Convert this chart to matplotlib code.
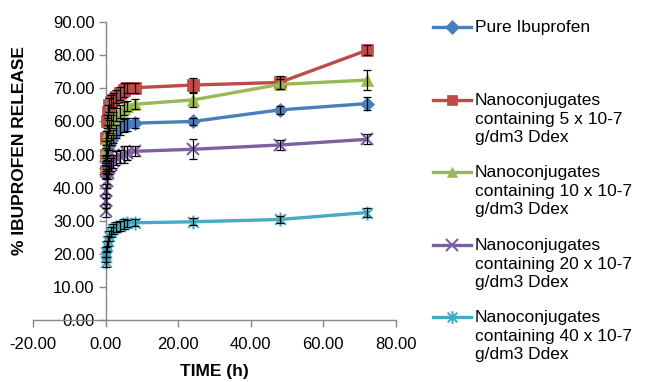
import matplotlib.pyplot as plt
from matplotlib.lines import Line2D
from matplotlib.path import Path

plt.rcParams['font.family'] = ['Liberation Sans', 'DejaVu Sans']

# release data
time_h = [0.083, 0.167, 0.25, 0.5, 0.75, 1, 1.5, 2, 3, 4, 5, 6, 8, 24, 48, 72]

pure = [44, 46, 48, 50, 51.5, 53, 54.5, 55.5, 57, 58, 58.8, 59.2, 59.5, 60, 63.5, 65.4]
pure_err = [1.5, 1.5, 1.5, 1.5, 1.5, 1.5, 1.5, 2, 2, 2, 2, 2, 1.5, 1.2, 1.2, 2]

d5 = [45, 50, 55, 60, 63, 65, 66, 66.5, 67.5, 68.5, 69.5, 70, 70.2, 71, 71.8, 81.5]
d5_err = [2, 2, 2, 2, 2, 2, 2, 2, 2, 2, 2, 1.5, 1.5, 2, 2, 1.5]

d10 = [47, 50, 52, 55, 57, 58.5, 60, 61, 62, 63, 64, 64.8, 65.2, 66.5, 71.2, 72.5]
d10_err = [2, 2, 2, 2, 2, 2, 2, 2, 2, 2, 2, 1.5, 1.5, 2, 1.5, 3]

d20 = [33, 36, 39, 42, 44.5, 46, 47, 48, 49, 49.5, 50, 50.5, 51, 51.6, 52.9, 54.6]
d20_err = [2, 2, 2, 2, 2, 2, 2, 2, 2, 2, 2.5, 2, 1.5, 3, 1.5, 1.5]

d40 = [17.5, 19, 20.5, 22.5, 24, 25.5, 26.5, 27.5, 28, 28.5, 29, 29.2, 29.4, 29.7, 30.4, 32.5]
d40_err = [1.5, 1.5, 1.5, 1.5, 1.5, 1.5, 1.5, 1.5, 1.5, 1.5, 1.5, 1, 1, 1, 1, 1.5]

labels = ["Pure Ibuprofen",
          "Nanoconjugates\ncontaining 5 x 10-7\ng/dm3 Ddex",
          "Nanoconjugates\ncontaining 10 x 10-7\ng/dm3 Ddex",
          "Nanoconjugates\ncontaining 20 x 10-7\ng/dm3 Ddex",
          "Nanoconjugates\ncontaining 40 x 10-7\ng/dm3 Ddex"]

# excel style star: an x with a vertical bar through it
star = Path([(-1, -1), (1, 1), (-1, 1), (1, -1), (0, -1.3), (0, 1.3)],
            [Path.MOVETO, Path.LINETO] * 3)

series = [pure, d5, d10, d20, d40]
errors = [pure_err, d5_err, d10_err, d20_err, d40_err]
colors = ["#4A7EBB", "#BE4B48", "#98B954", "#7D60A0", "#46AAC5"]
markers = ["D", "s", "^", "x", star]
msizes = [7.5, 8.5, 8.5, 9, 10]
medges = [0.5, 0.5, 0.5, 1.5, 1.5]

fig = plt.figure(figsize=(6.47, 3.82), dpi=100)
ax = fig.add_axes([0.051, 0.162, 0.561, 0.780])

for vals, err, c, m, ms, me in zip(series, errors, colors, markers, msizes, medges):
    ax.errorbar(time_h, vals, yerr=err, fmt='none', ecolor='black',
                elinewidth=0.9, capsize=3, capthick=0.9, zorder=3)
    ax.plot(time_h, vals, color=c, marker=m, markersize=ms, linewidth=2.4,
            markeredgewidth=me, markeredgecolor=c, zorder=2)

ax.set_xlim(-20, 80)
ax.set_ylim(0, 90)
ax.set_xticks(range(-20, 81, 20))
ax.set_yticks(range(0, 91, 10))
ax.xaxis.set_major_formatter(plt.FuncFormatter(lambda v, p: f"{v:.2f}"))
ax.yaxis.set_major_formatter(plt.FuncFormatter(lambda v, p: f"{v:.2f}"))

for s in ("top", "right"):
    ax.spines[s].set_visible(False)
ax.spines["left"].set_position(("data", 0))
for s in ("left", "bottom"):
    ax.spines[s].set_color("#888888")
    ax.spines[s].set_linewidth(1)
ax.tick_params(axis="both", colors="#888888", labelcolor="black", labelsize=12,
               length=5, width=1)
ax.tick_params(axis="x", pad=7)
ax.tick_params(axis="y", pad=3)

ax.set_xlabel("TIME (h)", fontsize=12.5, fontweight="bold", labelpad=9)
fig.text(0.03, 0.605, "% IBUPROFEN RELEASE", rotation=90, fontsize=12.5,
         fontweight="bold", ha="center", va="center")

# legend drawn by hand so the handle sits on the first label line
leg_y = [27, 100, 172, 245, 317]
for lab, c, m, ms, me, yp in zip(labels, colors, markers, msizes, medges, leg_y):
    yf = 1 - yp / 382
    h = Line2D([433 / 647, 452 / 647, 471 / 647], [yf, yf, yf], transform=fig.transFigure,
               color=c, linewidth=2.4, marker=m, markersize=ms * 0.9, markevery=[1],
               markeredgecolor=c, markeredgewidth=me)
    fig.add_artist(h)
    fig.text(475 / 647, yf + 7 / 382, lab, fontsize=12.5, ha="left", va="top",
             linespacing=1.3)

fig.savefig("out.png", dpi=100)
